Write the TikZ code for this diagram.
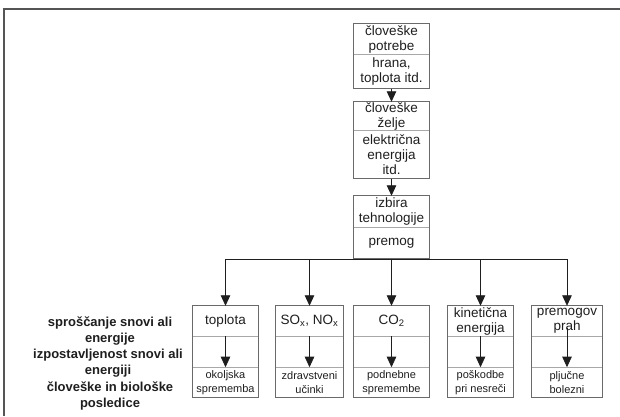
\documentclass[tikz,border=0pt]{standalone}
\usepackage{fontspec}
\setmainfont{Liberation Sans}
\usetikzlibrary{positioning,arrows.meta}
\definecolor{framegray}{HTML}{555555}
\definecolor{boxgray}{HTML}{6A6A6A}
\definecolor{divgray}{HTML}{A8A8A8}
\definecolor{inkgray}{HTML}{1E1E1E}

\begin{document}
\begin{tikzpicture}[x=1pt, y=-1pt,
  chainpart/.style = {inner sep=0pt, minimum width=75pt, align=center, text=inkgray, font=\fontsize{13.5}{15}\selectfont},
  effectlo/.style = {inner sep=0pt, minimum height=30pt, align=center, text=inkgray, font=\fontsize{11}{14}\selectfont},
  rowlbl/.style = {inner sep=0pt, align=center, text=inkgray, font=\bfseries\fontsize{13}{16}\selectfont},
  boxline/.style = {draw=boxgray, line width=0.7pt},
  divline/.style = {draw=divgray, line width=0.5pt},
  flow/.style = {-{Triangle[width=9.5pt,length=10.5pt]}, line width=0.8pt, draw=inkgray},
  branch/.style = {line width=0.8pt, draw=inkgray}
]
  \useasboundingbox (0,0) rectangle (620,416);
  % okvir
  \draw[framegray, line width=1.4pt] (620,9) -- (4,9) -- (4,416);

  % potrebe
  \node[chainpart, minimum height=30pt] (needup) at (391.5,39) {človeške\\potrebe};
  \node[chainpart, minimum height=34pt, below=0pt of needup] (needlo) {hrana,\\toplota itd.};
  \draw[boxline] (needup.north west) rectangle (needlo.south east);
  \draw[divline] (needup.south west) -- (needup.south east);

  % zelje
  \node[chainpart, minimum height=28pt] (wishup) at (391.5,116) {človeške\\želje};
  \node[chainpart, minimum height=48pt, below=0pt of wishup] (wishlo) {električna\\energija\\itd.};
  \draw[boxline] (wishup.north west) rectangle (wishlo.south east);
  \draw[divline] (wishup.south west) -- (wishup.south east);

  % tehnologija
  \node[chainpart, minimum height=31pt] (techup) at (391.5,211.5) {izbira\\tehnologije};
  \node[chainpart, minimum height=31pt, below=0pt of techup] (techlo) {premog};
  \draw[boxline] (techup.north west) rectangle (techlo.south east);
  \draw[divline] (techup.south west) -- (techup.south east);

  \draw[flow] (needlo.south) -- (wishup.north);
  \draw[flow] (wishlo.south) -- (techup.north);

  % posledice
  \node[chainpart, minimum width=65pt, minimum height=30pt] (heat) at (225.5,321) {toplota};
  \node[effectlo, minimum width=65pt, below=31pt of heat] (heatlo) {okoljska\\sprememba};
  \node[chainpart, minimum width=67pt, minimum height=30pt] (sox) at (309.5,321) {SO\textsubscript{x}, NO\textsubscript{x}};
  \node[effectlo, minimum width=67pt, below=31pt of sox] (soxlo) {zdravstveni\\učinki};
  \node[chainpart, minimum width=75pt, minimum height=30pt] (co2) at (391.5,321) {CO\textsubscript{2}};
  \node[effectlo, minimum width=75pt, below=31pt of co2] (co2lo) {podnebne\\spremembe};
  \node[chainpart, minimum width=65pt, minimum height=30pt] (kin) at (480.5,321) {kinetična\\energija};
  \node[effectlo, minimum width=65pt, below=31pt of kin] (kinlo) {poškodbe\\pri nesreči};
  \node[chainpart, minimum width=70pt, minimum height=30pt] (dust) at (567,321) {premogov\\prah};
  \node[effectlo, minimum width=70pt, below=31pt of dust] (dustlo) {pljučne\\bolezni};

  \draw[boxline] (heat.north west) rectangle (heatlo.south east);
  \draw[boxline] (sox.north west) rectangle (soxlo.south east);
  \draw[boxline] (co2.north west) rectangle (co2lo.south east);
  \draw[boxline] (kin.north west) rectangle (kinlo.south east);
  \draw[boxline] (dust.north west) rectangle (dustlo.south east);
  \draw[divline] (heat.south west) -- (heat.south east) (heatlo.north west) -- (heatlo.north east);
  \draw[divline] (sox.south west) -- (sox.south east) (soxlo.north west) -- (soxlo.north east);
  \draw[divline] (co2.south west) -- (co2.south east) (co2lo.north west) -- (co2lo.north east);
  \draw[divline] (kin.south west) -- (kin.south east) (kinlo.north west) -- (kinlo.north east);
  \draw[divline] (dust.south west) -- (dust.south east) (dustlo.north west) -- (dustlo.north east);

  % razvejitev
  \coordinate (fork) at (391.5,259);
  \draw[branch] (techlo.south) -- (fork);
  \draw[branch] (fork -| heat.north) -- (fork -| dust.north);
  \draw[flow] (fork -| heat.north) -- (heat.north);
  \draw[flow] (fork -| sox.north) -- (sox.north);
  \draw[flow] (fork) -- (co2.north);
  \draw[flow] (fork -| kin.north) -- (kin.north);
  \draw[flow] (fork -| dust.north) -- (dust.north);

  \draw[flow] (heat.south) -- (heatlo.north);
  \draw[flow] (sox.south) -- (soxlo.north);
  \draw[flow] (co2.south) -- (co2lo.north);
  \draw[flow] (kin.south) -- (kinlo.north);
  \draw[flow] ([yshift=8pt]dust.south) -- (dustlo.north);

  % oznake vrstic
  \node[rowlbl] (release) at (110,331) {sproščanje snovi ali\\energije};
  \node[rowlbl] (exposure) at (108,363.5) {izpostavljenost snovi ali\\energiji};
  \node[rowlbl] (impact) at (110,395.5) {človeške in biološke\\posledice};
\end{tikzpicture}
\end{document}
